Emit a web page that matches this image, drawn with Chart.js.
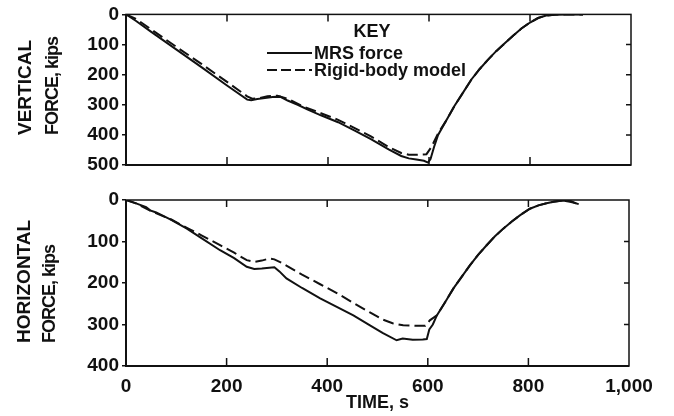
<!DOCTYPE html>
<html>
<head>
<meta charset="utf-8">
<script src="https://cdn.jsdelivr.net/npm/chart.js@4/dist/chart.umd.min.js"></script>
<style>
  html, body { margin: 0; padding: 0; background: #fff; }
  #wrap { position: relative; width: 674px; height: 416px; overflow: hidden; }
  canvas { position: absolute; left: 0; }
  .ytitle {
    position: absolute;
    transform-origin: 0 0;
    transform: rotate(-90deg);
    font: bold 19px "Liberation Sans", Arial, sans-serif;
    line-height: 19px;
    white-space: nowrap;
    color: #111;
  }
  .ytitle.small { font-size: 18px; line-height: 18px; letter-spacing: -1px; }
</style>
</head>
<body>
<div id="wrap">
  <canvas id="top" width="674" height="185" style="top:0"></canvas>
  <canvas id="bottom" width="674" height="231" style="top:185px"></canvas>
  <div class="ytitle" style="left:15px;top:135px">VERTICAL</div>
  <div class="ytitle small" style="left:43px;top:135px">FORCE, kips</div>
  <div class="ytitle" style="left:14px;top:343px">HORIZONTAL</div>
  <div class="ytitle small" style="left:40px;top:343px">FORCE, kips</div>
</div>
<script>
const INK = "#111"
const FONT_FAMILY = '"Liberation Sans", Arial, sans-serif'

// Axis ticks
const xTicks = [0, 200, 400, 600, 800, 1000]
const xTickLabels = ["0", "200", "400", "600", "800", "1,000"]
const vertTicks = [0, 100, 200, 300, 400, 500]
const horizTicks = [0, 100, 200, 300, 400]

// Vertical force, MRS force (solid)
const vertMrsTime = [0, 20, 50, 100, 150, 200, 240, 248, 260, 275, 290, 305, 320, 340, 360, 386, 420, 452, 485, 520, 545, 560, 575, 590, 598, 603, 610, 618, 635, 650, 668, 684, 700, 717, 733, 750, 767, 783, 800, 816, 832, 849, 870, 890, 905]
const vertMrsForce = [0, 22, 58, 117, 176, 236, 283, 285, 281, 278, 274, 273, 286, 300, 316, 335, 358, 385, 414, 448, 470, 478, 482, 486, 492, 480, 440, 400, 350, 305, 258, 216, 182, 150, 122, 96, 70, 47, 27, 12, 4, 1, 0, 0, 0]

// Vertical force, rigid-body model (dashed)
const vertRigidTime = [0, 20, 50, 100, 150, 200, 240, 250, 265, 280, 300, 320, 350, 386, 420, 452, 485, 520, 545, 560, 575, 595, 605, 618, 635, 650, 668, 684, 700, 717, 733, 750, 767, 783, 800, 816, 832, 849, 870, 890, 905]
const vertRigidForce = [0, 15, 50, 108, 165, 224, 272, 280, 278, 272, 270, 280, 305, 328, 350, 377, 405, 440, 460, 466, 466, 464, 440, 395, 350, 305, 258, 216, 182, 150, 122, 96, 70, 47, 27, 12, 4, 1, 0, 0, 0]

// Horizontal force, MRS force (solid)
const horizMrsTime = [0, 20, 40, 48, 60, 90, 121, 150, 187, 215, 240, 255, 270, 285, 295, 305, 319, 350, 386, 420, 452, 485, 510, 538, 550, 570, 590, 598, 603, 610, 618, 635, 651, 668, 684, 700, 717, 733, 750, 767, 783, 803, 820, 836, 850, 869, 885, 900]
const horizMrsForce = [0, 8, 17, 25, 30, 48, 69, 92, 121, 140, 161, 166, 165, 163, 162, 172, 189, 212, 237, 258, 278, 302, 320, 338, 334, 337, 336, 335, 312, 300, 278, 245, 213, 184, 157, 132, 109, 88, 69, 52, 37, 21, 13, 8, 4, 1, 5, 10]

// Horizontal force, rigid-body model (dashed)
const horizRigidTime = [0, 20, 50, 90, 121, 150, 187, 215, 240, 255, 270, 285, 295, 310, 350, 386, 420, 452, 485, 510, 530, 551, 575, 595, 604, 618, 635, 651, 668, 684, 700, 717, 733, 750, 767, 783, 803, 820, 836, 850, 869, 885, 895]
const horizRigidForce = [0, 8, 27, 47, 67, 85, 109, 127, 145, 149, 146, 141, 143, 152, 180, 203, 225, 248, 271, 288, 297, 302, 303, 303, 290, 278, 245, 213, 184, 157, 132, 109, 88, 69, 52, 37, 21, 13, 8, 4, 1, 3, 8]

const toPoints = (times, values) => times.map((t, i) => ({ x: t, y: values[i] }))

function lineDataset(label, times, values, dashed) {
  return {
    label: label,
    data: toPoints(times, values),
    borderColor: INK,
    borderWidth: 2,
    borderDash: dashed ? [11, 5] : [],
    pointRadius: 0,
    tension: 0,
    fill: false
  }
}

// Box round the plot area with the inward tick dashes on top, bottom and right.
function framePlugin(yInner) {
  return {
    id: "frame",
    afterDraw(chart) {
      const { ctx, chartArea: a, scales } = chart
      ctx.save()
      ctx.strokeStyle = INK
      ctx.lineWidth = 1.5
      ctx.strokeRect(a.left, a.top, a.right - a.left, a.bottom - a.top)
      ctx.lineWidth = 2
      ctx.beginPath()
      ctx.moveTo(a.left, a.top)
      ctx.lineTo(a.left, a.bottom)
      ctx.lineTo(a.right, a.bottom)
      ctx.stroke()
      ctx.lineWidth = 1.5
      ctx.beginPath()
      xTicks.slice(1, -1).forEach((v) => {
        const px = scales.x.getPixelForValue(v)
        ctx.moveTo(px, a.top)
        ctx.lineTo(px, a.top + 7)
        ctx.moveTo(px, a.bottom)
        ctx.lineTo(px, a.bottom - 8)
      })
      yInner.forEach((v) => {
        const py = scales.y.getPixelForValue(v)
        ctx.moveTo(a.right, py)
        ctx.lineTo(a.right - 5, py)
      })
      ctx.stroke()
      ctx.restore()
    }
  }
}

// The "KEY" box in the upper chart.
const keyPlugin = {
  id: "key",
  afterDraw(chart) {
    const ctx = chart.ctx
    const sets = chart.data.datasets
    ctx.save()
    ctx.fillStyle = INK
    ctx.font = "bold 18px " + FONT_FAMILY
    ctx.textBaseline = "middle"
    ctx.textAlign = "center"
    ctx.fillText("KEY", 372, 32)
    ctx.textAlign = "left"
    ;[53, 70].forEach((y, i) => {
      ctx.strokeStyle = INK
      ctx.lineWidth = 2
      ctx.setLineDash(i === 0 ? [] : [10, 4])
      ctx.beginPath()
      ctx.moveTo(267, y)
      ctx.lineTo(312, y)
      ctx.stroke()
      ctx.fillText(sets[i].label, 314, y + 1)
    })
    ctx.restore()
  }
}

function makeChart(canvas, datasets, opts) {
  return new Chart(canvas.getContext("2d"), {
    type: "line",
    data: { datasets: datasets },
    plugins: opts.plugins,
    options: {
      responsive: false,
      animation: false,
      devicePixelRatio: 1,
      layout: { padding: opts.padding },
      plugins: { legend: { display: false }, tooltip: { enabled: false } },
      scales: {
        x: {
          type: "linear",
          min: 0,
          max: 1000,
          afterBuildTicks: (axis) => { axis.ticks = xTicks.map((v) => ({ value: v })) },
          afterFit: (scale) => { scale.height = opts.xHeight },
          grid: { display: false, drawTicks: false },
          border: { display: false },
          ticks: {
            display: opts.showX,
            padding: 9,
            maxRotation: 0,
            autoSkip: false,
            color: INK,
            font: { family: FONT_FAMILY, size: 19, weight: "bold" },
            callback: (v) => xTickLabels[xTicks.indexOf(v)]
          },
          title: opts.showX ? {
            display: true,
            text: "TIME, s",
            color: INK,
            padding: { top: 0, bottom: 2 },
            font: { family: FONT_FAMILY, size: 18, weight: "bold" }
          } : { display: false }
        },
        y: {
          type: "linear",
          reverse: true,
          min: 0,
          max: opts.yTicks[opts.yTicks.length - 1],
          afterBuildTicks: (axis) => { axis.ticks = opts.yTicks.map((v) => ({ value: v })) },
          afterFit: (scale) => { scale.width = 126 },
          grid: { display: true, drawOnChartArea: false, drawTicks: true, tickLength: 4, color: INK, lineWidth: 1.5 },
          border: { display: false },
          ticks: {
            padding: 3,
            color: INK,
            font: { family: FONT_FAMILY, size: 19, weight: "bold" }
          }
        }
      }
    }
  })
}

makeChart(document.getElementById("top"), [
  lineDataset("MRS force", vertMrsTime, vertMrsForce, false),
  lineDataset("Rigid-body model", vertRigidTime, vertRigidForce, true)
], {
  padding: { top: 12, right: 43, left: 0, bottom: 0 },
  xHeight: 20,
  showX: false,
  yTicks: vertTicks,
  plugins: [framePlugin(vertTicks.slice(1, -1)), keyPlugin]
})

makeChart(document.getElementById("bottom"), [
  lineDataset("MRS force", horizMrsTime, horizMrsForce, false),
  lineDataset("Rigid-body model", horizRigidTime, horizRigidForce, true)
], {
  padding: { top: 15, right: 45, left: 0, bottom: 0 },
  xHeight: 50,
  showX: true,
  yTicks: horizTicks,
  plugins: [framePlugin(horizTicks.slice(1, -1))]
})
</script>
</body>
</html>
